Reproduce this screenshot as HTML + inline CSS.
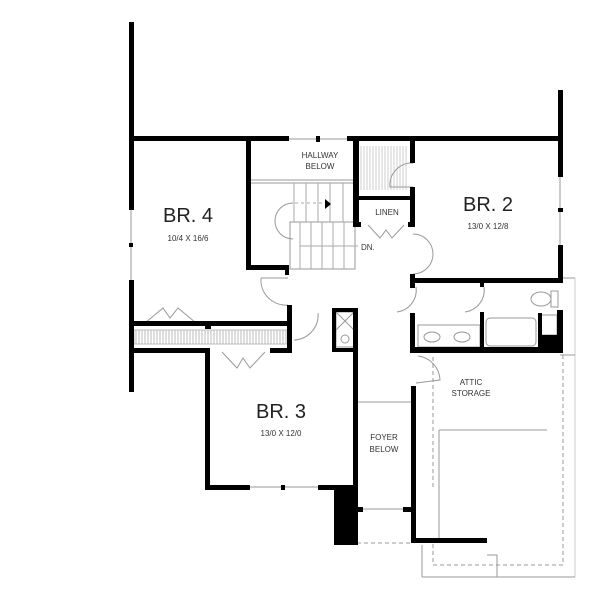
<!DOCTYPE html>
<html><head><meta charset="utf-8"><style>
html,body{margin:0;padding:0;background:#fff;}
svg{display:block}
text{font-family:"Liberation Sans",sans-serif;fill:#333}
</style></head><body>
<svg width="600" height="607" viewBox="0 0 600 607" xmlns="http://www.w3.org/2000/svg">
<defs>
<pattern id="h" width="3" height="14" patternUnits="userSpaceOnUse"><line x1="1" y1="0" x2="1" y2="14" stroke="#aaa" stroke-width="0.8"/></pattern>
</defs>
<rect x="134" y="330" width="154" height="14" fill="url(#h)"/>
<rect x="360" y="146" width="48" height="44" fill="url(#h)" opacity="0.7"/>
<g fill="none" stroke="#999" stroke-width="1">
 <line x1="131" y1="210" x2="131" y2="280"/>
 <line x1="288" y1="139" x2="348" y2="139"/>
 <line x1="560" y1="177" x2="560" y2="245"/>
 <line x1="250" y1="487" x2="318" y2="487"/>
 <line x1="357" y1="509" x2="410" y2="509"/>
 <line x1="357" y1="402" x2="412" y2="402"/>
 <line x1="250" y1="180" x2="355" y2="180"/>
 <line x1="250" y1="183" x2="355" y2="183"/>
 <rect x="290" y="222" width="65" height="47"/>
 <g stroke="#aaa">
 <line x1="294" y1="183" x2="294" y2="222"/><line x1="306" y1="183" x2="306" y2="222"/><line x1="318" y1="183" x2="318" y2="222"/><line x1="330" y1="183" x2="330" y2="222"/><line x1="343" y1="183" x2="343" y2="222"/>
 <line x1="300" y1="222" x2="300" y2="269"/><line x1="311" y1="222" x2="311" y2="269"/><line x1="322" y1="222" x2="322" y2="269"/><line x1="333" y1="222" x2="333" y2="269"/><line x1="344" y1="222" x2="344" y2="269"/>
 <line x1="295" y1="203" x2="330" y2="203" stroke-dasharray="3,3"/>
 <line x1="300" y1="246" x2="358" y2="246"/>
 </g>
 <path d="M293,203 A18,18 0 0 0 293,239"/>
 <path d="M261,278 A25,25 0 0 0 288,305 M261,278 L288,278"/>
 <path d="M294,340 A25,25 0 0 0 318,313"/>
 <path d="M413,163 A22,22 0 0 0 390,187 L413,187"/>
 <path d="M413,234 A20,20 0 0 1 433,254 A20,20 0 0 1 413,274"/>
 <path d="M416,287 A22,22 0 0 1 397,312"/>
 <path d="M484,287 A22,22 0 0 1 465,312"/>
 <path d="M418,356 A25,25 0 0 1 440,380 L416,383"/>
 <path d="M145,323 L163,308 L170,318 L178,308 L196,323"/>
 <path d="M222,352 L237,368 L243,358 L250,368 L265,352"/>
 <path d="M368,225 L380,238 L386,230 L392,238 L404,225"/>
 <rect x="134" y="330" width="154" height="14" stroke="#bbb"/>
 <rect x="336" y="312" width="18" height="35"/>
 <path d="M336,312 L354,330 M354,312 L336,330"/>
 <circle cx="345" cy="339" r="4"/>
 <rect x="418" y="325" width="62" height="22"/>
 <ellipse cx="432" cy="337" rx="8" ry="5"/><ellipse cx="462" cy="337" rx="8" ry="5"/>
 <rect x="486" y="318" width="50" height="28" rx="4"/>
 <ellipse cx="541" cy="299" rx="10" ry="7"/><rect x="551" y="291" width="7" height="16"/>
 <rect x="541" y="315" width="16" height="20"/>
 <line x1="562" y1="278" x2="575" y2="278"/>
 <line x1="575" y1="278" x2="575" y2="577" stroke="#ccc"/>
 <g stroke-dasharray="4,3">
  <path d="M433,357 L433,489 M563,355 L563,565 L433,565 L433,542"/>
  <path d="M357,543 L413,543"/>
 </g>
 <path d="M422,577 L575,577 M422,545 L422,577 M439,430 L547,430 M439,430 L439,542 M487,555 L497,555 L497,577 M560,355 L575,355"/>
</g>
<g fill="#000">
 <rect x="129" y="22" width="5" height="188"/>
 <rect x="129" y="280" width="5" height="112"/>
 <rect x="129" y="243" width="4" height="4"/>
 <rect x="129" y="136" width="160" height="5"/>
 <rect x="347" y="136" width="215" height="5"/>
 <rect x="316" y="136" width="4" height="6"/>
 <rect x="558" y="90" width="5" height="87"/>
 <rect x="558" y="245" width="5" height="38"/>
 <rect x="558" y="208" width="5" height="4"/>
 <rect x="246" y="141" width="5" height="128"/>
 <rect x="246" y="265" width="43" height="5"/>
 <rect x="285" y="265" width="4" height="10"/>
 <rect x="129" y="321" width="76" height="5"/>
 <rect x="210" y="321" width="80" height="5"/>
 <rect x="129" y="348" width="78" height="5"/>
 <rect x="205" y="321" width="6" height="8"/>
 <rect x="270" y="348" width="20" height="5"/>
 <rect x="287" y="305" width="5" height="48"/>
 <rect x="205" y="348" width="5" height="142"/>
 <rect x="205" y="485" width="45" height="5"/>
 <rect x="318" y="485" width="40" height="5"/>
 <rect x="281" y="485" width="4" height="5"/>
 <rect x="353" y="308" width="5" height="182"/>
 <rect x="332" y="308" width="26" height="4"/>
 <rect x="332" y="308" width="4" height="44"/>
 <rect x="332" y="348" width="26" height="4"/>
 <rect x="334" y="487" width="24" height="58"/>
 <rect x="353" y="507" width="10" height="5"/>
 <rect x="353" y="136" width="6" height="90"/>
 <rect x="410" y="136" width="5" height="27"/>
 <rect x="410" y="187" width="5" height="40"/>
 <rect x="353" y="196" width="62" height="4"/>
 <rect x="353" y="222" width="8" height="5"/>
 <rect x="408" y="222" width="7" height="5"/>
 <rect x="410" y="278" width="153" height="5"/>
 <rect x="410" y="274" width="5" height="14"/>
 <rect x="410" y="313" width="5" height="40"/>
 <rect x="480" y="283" width="4" height="4"/>
 <rect x="480" y="312" width="4" height="40"/>
 <rect x="410" y="347" width="153" height="6"/>
 <rect x="538" y="313" width="4" height="38"/>
 <rect x="557" y="310" width="6" height="42"/>
 <rect x="538" y="335" width="25" height="17"/>
 <rect x="411" y="386" width="5" height="157"/>
 <rect x="403" y="507" width="10" height="5"/>
 <rect x="411" y="538" width="76" height="5"/>
</g>
<g text-anchor="middle">
 <text x="188" y="222" font-size="20" style="fill:#222">BR. 4</text>
 <text x="188" y="241" font-size="8">10/4 X 16/6</text>
 <text x="488" y="211" font-size="20" style="fill:#222">BR. 2</text>
 <text x="488" y="229" font-size="8">13/0 X 12/8</text>
 <text x="281" y="418" font-size="20" style="fill:#222">BR. 3</text>
 <text x="281" y="436" font-size="8">13/0 X 12/0</text>
 <text x="320" y="158" font-size="8">HALLWAY</text>
 <text x="320" y="169" font-size="8">BELOW</text>
 <text x="387" y="215" font-size="8">LINEN</text>
 <text x="384" y="440" font-size="8">FOYER</text>
 <text x="384" y="452" font-size="8">BELOW</text>
 <text x="471" y="385" font-size="8">ATTIC</text>
 <text x="471" y="396" font-size="8">STORAGE</text>
</g>
<text x="361" y="250" font-size="8">DN.</text>
<path d="M325,199 L331,204 L325,209 Z" fill="#000"/>
</svg>
</body></html>
